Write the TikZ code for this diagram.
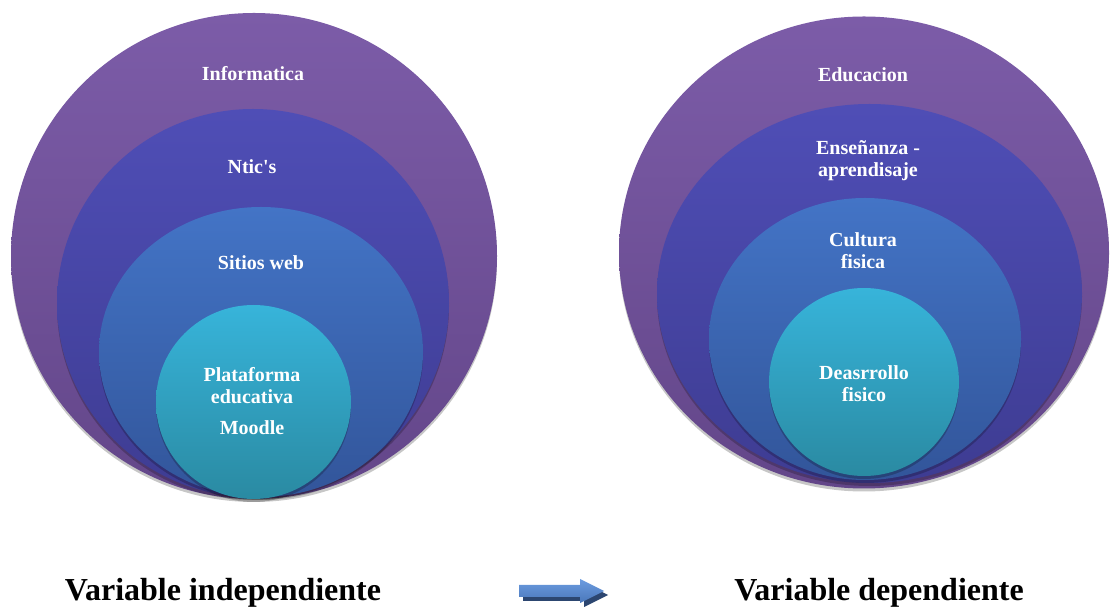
\documentclass[tikz,border=0pt]{standalone}
\usepackage{fontspec}
\setmainfont{Liberation Serif}
\definecolor{moradoA}{HTML}{7C5CA8}
\definecolor{moradoB}{HTML}{634689}
\definecolor{indigoA}{HTML}{4F4EB6}
\definecolor{indigoB}{HTML}{3E3C92}
\definecolor{azulA}{HTML}{4374C6}
\definecolor{azulB}{HTML}{32559A}
\definecolor{cianA}{HTML}{37B4DA}
\definecolor{cianB}{HTML}{2A8AA2}
\definecolor{flechaA}{HTML}{6C9CE0}
\definecolor{flechaB}{HTML}{4A77BA}
\definecolor{flechaS}{HTML}{2C4670}
\begin{document}
\begin{tikzpicture}[x=0.75pt,y=0.75pt,
  nivel1/.style={top color=moradoA,bottom color=moradoB},
  nivel2/.style={top color=indigoA,bottom color=indigoB},
  nivel3/.style={top color=azulA,bottom color=azulB},
  nivel4/.style={top color=cianA,bottom color=cianB},
  sombra/.style={fill=black,opacity=.22},
  rotulo/.style={text=white,font=\bfseries\fontsize{15}{16.5}\selectfont,align=center},
  titulo/.style={font=\bfseries\fontsize{24}{28}\selectfont,anchor=base}]
\useasboundingbox (0,0) rectangle (1110,610);
\fill[white] (0,0) rectangle (1110,610);
\fill[sombra] (254,351) ellipse [x radius=243,y radius=243];
\shade[nivel1] (254,354) ellipse [x radius=243,y radius=243];
\fill[sombra] (253,304) ellipse [x radius=196,y radius=194];
\shade[nivel2] (253,307) ellipse [x radius=196,y radius=194];
\fill[sombra] (261,255) ellipse [x radius=162,y radius=145];
\shade[nivel3] (261,258) ellipse [x radius=162,y radius=145];
\fill[sombra] (253.5,205) ellipse [x radius=97.5,y radius=97];
\shade[nivel4] (253.5,208) ellipse [x radius=97.5,y radius=97];
\fill[sombra] (864,354.5) ellipse [x radius=245,y radius=236];
\shade[nivel1] (864,357.5) ellipse [x radius=245,y radius=236];
\fill[sombra] (869.5,313.5) ellipse [x radius=212.5,y radius=189.5];
\shade[nivel2] (869.5,316.5) ellipse [x radius=212.5,y radius=189.5];
\fill[sombra] (865,268) ellipse [x radius=156,y radius=141];
\shade[nivel3] (865,271) ellipse [x radius=156,y radius=141];
\fill[sombra] (864,225) ellipse [x radius=95,y radius=94];
\shade[nivel4] (864,228) ellipse [x radius=95,y radius=94];
\node[rotulo] (informatica) at (253,536) {Informatica};
\node[rotulo] (ntics) at (252,443) {Ntic\textquotesingle s};
\node[rotulo] (sitios) at (261,347) {Sitios web};
\node[rotulo] (plataforma) at (252,209) {Plataforma\\educativa\\[7pt]Moodle};
\node[rotulo] (educacion) at (863,535) {Educacion};
\node[rotulo] (ensenanza) at (868,449) {Enseñanza -\\aprendisaje};
\node[rotulo] (cultura) at (863,359) {Cultura\\fisica};
\node[rotulo] (desarrollo) at (864,226) {Deasrrollo\\fisico};
\node[titulo] (independiente) at (223,9) {Variable independiente};
\node[titulo] (dependiente) at (879,9) {Variable dependiente};
\fill[flechaS] (523,9) -- (584,9) -- (584,3) -- (608,15) -- (584,27) -- (584,21) -- (523,21) -- cycle;
\shade[top color=flechaA,bottom color=flechaB] (519,13) -- (580,13) -- (580,7) -- (604,19) -- (580,31) -- (580,25) -- (519,25) -- cycle;
\end{tikzpicture}
\end{document}
